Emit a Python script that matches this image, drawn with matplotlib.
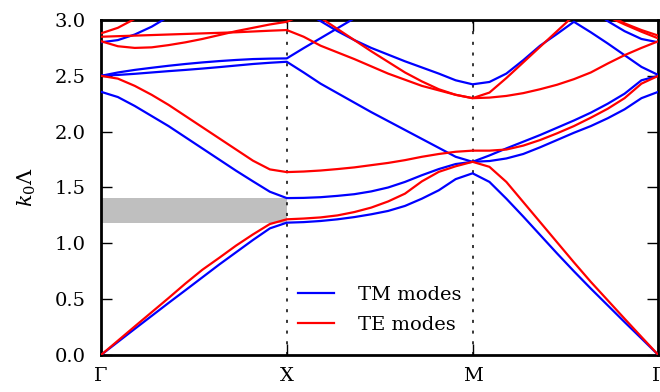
import numpy as np
import matplotlib
matplotlib.use('Agg')
import matplotlib.pyplot as plt

nan = np.nan

# k-path labels (Gamma - X - M - Gamma), 11 intervals per segment
k_labels = ['Γ', 'X', 'M', 'Γ']
n_seg = 11

# TM bands (k0*Lambda), segments G-X (12 pts), X-M (11 pts), M-G (11 pts)
tm1 = [0.0, 0.117, 0.234, 0.350, 0.466, 0.58, 0.695, 0.81, 0.92, 1.03, 1.134, 1.185,
       1.19, 1.20, 1.215, 1.235, 1.26, 1.29, 1.335, 1.40, 1.475, 1.575, 1.627,
       1.55, 1.40, 1.24, 1.075, 0.91, 0.75, 0.595, 0.445, 0.295, 0.148, 0.0]
tm2 = [2.357, 2.31, 2.23, 2.14, 2.05, 1.95, 1.85, 1.75, 1.65, 1.555, 1.462, 1.405,
       1.407, 1.413, 1.425, 1.44, 1.465, 1.50, 1.55, 1.61, 1.665, 1.71, 1.73,
       1.737, 1.76, 1.80, 1.86, 1.925, 1.99, 2.05, 2.12, 2.20, 2.30, 2.357]
tm3 = [2.50, 2.508, 2.518, 2.53, 2.542, 2.553, 2.565, 2.578, 2.592, 2.606, 2.617, 2.626,
       2.53, 2.43, 2.345, 2.26, 2.175, 2.095, 2.015, 1.935, 1.855, 1.775, 1.73,
       1.787, 1.85, 1.91, 1.97, 2.035, 2.10, 2.17, 2.25, 2.34, 2.46, 2.50]
tm4 = [2.50, 2.53, 2.553, 2.572, 2.59, 2.606, 2.62, 2.632, 2.642, 2.65, 2.654, 2.656,
       2.748, 2.837, 2.926, 3.015, 3.1, nan, nan, nan, nan, nan, nan,
       nan, nan, nan, nan, nan, nan, 3.1, 2.99, 2.90, 2.83, 2.80]
tm5 = [2.80, 2.82, 2.87, 2.94, 3.03, 3.1, nan, nan, nan, nan, nan, 3.2,
       3.08, 2.99, 2.90, 2.82, 2.75, 2.69, 2.63, 2.575, 2.52, 2.46, 2.424,
       2.445, 2.52, 2.64, 2.77, 2.875, 2.984, 2.89, 2.79, 2.685, 2.58, 2.507]

# TE bands
te1 = [0.0, 0.128, 0.256, 0.383, 0.51, 0.64, 0.763, 0.87, 0.98, 1.08, 1.173, 1.215,
       1.222, 1.232, 1.25, 1.28, 1.32, 1.375, 1.445, 1.555, 1.64, 1.69, 1.73,
       1.685, 1.55, 1.37, 1.19, 1.01, 0.83, 0.655, 0.49, 0.325, 0.162, 0.0]
te2 = [2.50, 2.475, 2.41, 2.33, 2.24, 2.14, 2.04, 1.94, 1.84, 1.74, 1.662, 1.638,
       1.643, 1.652, 1.665, 1.68, 1.70, 1.72, 1.745, 1.775, 1.80, 1.82, 1.83,
       1.83, 1.84, 1.875, 1.925, 1.985, 2.05, 2.125, 2.205, 2.30, 2.43, 2.50]
te3 = [2.85, 2.855, 2.86, 2.865, 2.87, 2.875, 2.88, 2.885, 2.89, 2.897, 2.904, 2.91,
       2.85, 2.77, 2.71, 2.65, 2.585, 2.52, 2.465, 2.41, 2.37, 2.33, 2.30,
       2.305, 2.32, 2.345, 2.38, 2.42, 2.47, 2.53, 2.61, 2.685, 2.75, 2.81]
te4 = [2.81, 2.765, 2.75, 2.755, 2.775, 2.80, 2.83, 2.865, 2.90, 2.93, 2.96, 2.984,
       3.05, nan, nan, nan, nan, nan, nan, nan, nan, nan, nan,
       nan, nan, nan, nan, nan, nan, 3.15, 3.05, 2.97, 2.91, 2.86]
te5 = [2.88, 2.93, 3.01, 3.1, nan, nan, nan, nan, nan, nan, nan, nan,
       3.15, 3.02, 2.92, 2.82, 2.72, 2.625, 2.53, 2.45, 2.38, 2.33, 2.30,
       2.35, 2.48, 2.62, 2.76, 2.90, 3.04, nan, nan, nan, nan, nan]
te6 = [nan, nan, nan, nan, nan, nan, nan, nan, nan, nan, nan, nan,
       nan, nan, nan, nan, nan, nan, nan, nan, nan, nan, nan,
       nan, nan, nan, nan, nan, nan, 3.1, 3.03, 2.96, 2.895, 2.835]

tm_bands = [tm1, tm2, tm3, tm4, tm5]
te_bands = [te1, te2, te3, te4, te5, te6]

plt.rcParams['font.family'] = 'DejaVu Serif'
plt.rcParams['mathtext.fontset'] = 'dejavuserif'
plt.rcParams['font.size'] = 14

fig = plt.figure(figsize=(6.6, 3.92), dpi=100)
ax = fig.add_axes([0.153, 0.0944, 0.8445, 0.8546])

x = np.linspace(0, len(k_labels) - 1, (len(k_labels) - 1) * n_seg + 1)

# TM band gap along Gamma-X
gap_lo = max(tm1[:n_seg + 1])
gap_hi = min(tm2[:n_seg + 1])
ax.fill_between([0, 1], gap_lo, gap_hi, color='#bfbfbf', lw=0, zorder=1)

for i, b in enumerate(tm_bands):
    ax.plot(x, b, color='#0000ff', lw=1.6, zorder=3,
            label='TM modes' if i == 0 else None)
for i, b in enumerate(te_bands):
    ax.plot(x, b, color='#ff0000', lw=1.6, zorder=3,
            label='TE modes' if i == 0 else None)

for xv in [1, 2]:
    ax.axvline(xv, color='k', lw=1.1, linestyle=(0, (2, 5)), zorder=2)

ax.set_xlim(0, 3)
ax.set_ylim(0, 3)
ax.set_xticks(range(len(k_labels)))
ax.set_xticklabels(k_labels)
ax.set_yticks(np.arange(0, 3.01, 0.5))
ax.set_yticklabels(['%.1f' % v for v in np.arange(0, 3.01, 0.5)])
ax.set_ylabel(r'$k_0\Lambda$', labelpad=12, fontsize=15)

ax.tick_params(direction='in', length=8, width=1, top=True, right=True)
ax.tick_params(axis='y', pad=11)
ax.tick_params(axis='x', pad=9)
for s in ax.spines.values():
    s.set_linewidth(2)

ax.legend(loc='center', bbox_to_anchor=(0.50, 0.134), frameon=False,
          handlelength=1.85, handletextpad=1.2, labelspacing=0.6, fontsize=14)

fig.savefig('out.png', dpi=100)
